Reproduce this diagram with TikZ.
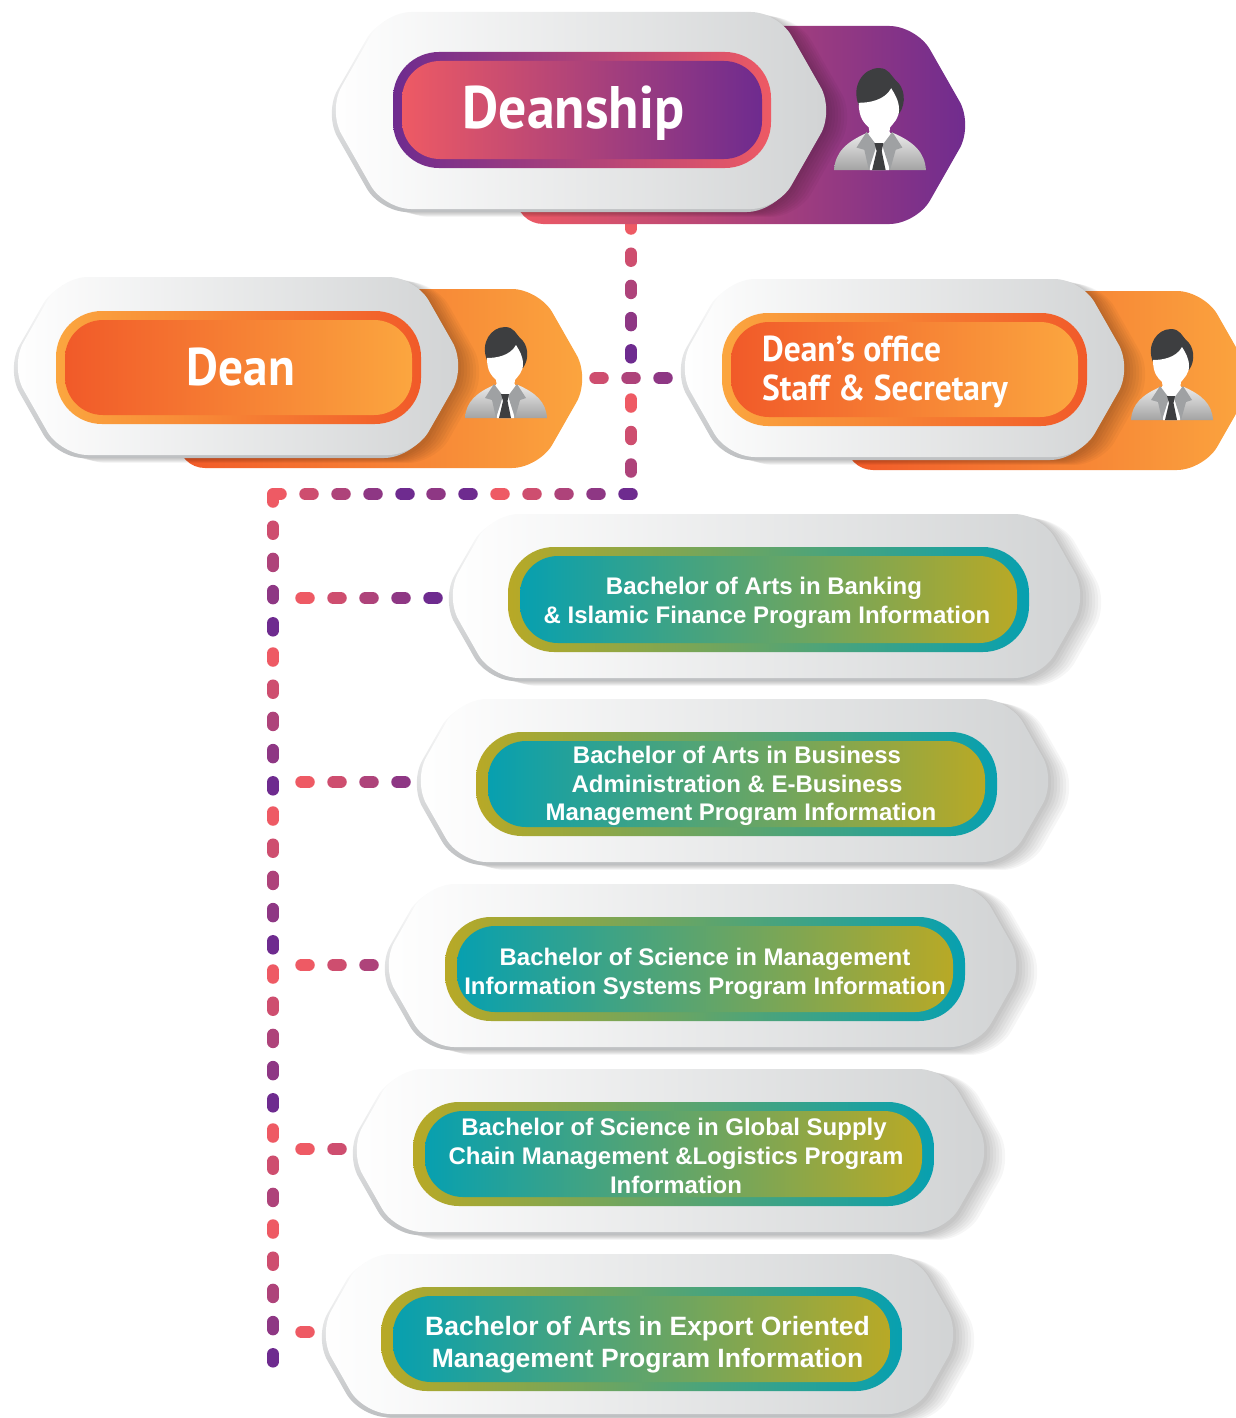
\documentclass[tikz,border=0pt]{standalone}
\usepackage{fontspec}
\newfontfamily\titlefont[FakeStretch=.93]{PT Sans}
\newfontfamily\progfont{Liberation Sans}

\definecolor{dotA}{HTML}{EE5A64}
\definecolor{dotB}{HTML}{CE4E6F}
\definecolor{dotC}{HTML}{AE437A}
\definecolor{dotD}{HTML}{8E3784}
\definecolor{dotE}{HTML}{6E2B8F}
\definecolor{orangeA}{HTML}{F15A29}
\definecolor{orangeB}{HTML}{FBA63F}
\definecolor{tealA}{HTML}{07A0B0}
\definecolor{oliveA}{HTML}{B8A926}
\definecolor{plateB}{HTML}{D1D3D4}
\definecolor{rimgrey}{HTML}{BEC0C2}
\definecolor{hairgrey}{HTML}{3D3E40}
\definecolor{lapelgrey}{HTML}{9FA1A3}

\tikzset{
  dotline/.style={line width=12pt, line cap=round},
  titletext/.style={text=white, inner sep=0pt, font=\titlefont\bfseries\fontsize{#1}{39}\selectfont},
  progtext/.style={text=white, inner sep=0pt, align=center, font=\progfont\bfseries\fontsize{24}{28.6}\selectfont},
  person/.pic={
    \shade[top color=black!8, bottom color=black!36] (-41,0) .. controls (-40,-16) and (-30,-25) .. (-12,-33)
      -- (12,-33) .. controls (30,-25) and (40,-16) .. (41,0) -- cycle;
    \fill[white] (-10,-34) -- (9,-34) -- (8,0) -- (-9,0) -- cycle;
    \fill[lapelgrey] (-12,-34) -- (-21,-20) -- (-14,-18) -- (-10,0) -- (-3,-22) -- cycle;
    \fill[lapelgrey] (11,-34) -- (20,-20) -- (14,-18) -- (9,0) -- (2,-22) -- cycle;
    \fill[hairgrey] (-5,-24) -- (3,-24) -- (1.5,-17) -- (5,0) -- (-7,0) -- (-3,-17) -- cycle;
    \fill[hairgrey] (-19,-58) .. controls (-26,-75) and (-15,-91) .. (-1,-91) .. controls (8,-91) and (10,-84) .. (14,-80)
      .. controls (22,-74) and (24,-60) .. (17,-50) -- cycle;
    \fill[white] (-19,-60) .. controls (-10,-60) and (4,-62) .. (10,-73) .. controls (13,-68) and (17,-62) .. (17,-54)
      .. controls (17,-46) and (12,-42) .. (9,-38) -- (8,-31) -- (-1,-24) -- (-9,-31) -- (-10,-38)
      .. controls (-14,-42) and (-19,-46) .. (-19,-60) -- cycle;
  }
}

%% hexagon outline, the four values being its left, right, top and bottom
\newcommand{\hexpath}[4]{({(#1+#2)/2},#3) -- ({#2+8-.57*(#4-#3)/2},#3) -- ({#2+8},{(#3+#4)/2})
  -- ({#2+8-.57*(#4-#3)/2},#4) -- ({#1-8+.57*(#4-#3)/2},#4) -- ({#1-8},{(#3+#4)/2})
  -- ({#1-8+.57*(#4-#3)/2},#3) -- cycle}

%% grey plate with its soft shadow and rim
\newcommand{\plate}[4]{
  \foreach \k in {1,...,7}
    \fill[black, opacity=.035, rounded corners=27pt, xshift=3*\k, yshift=-.7*\k] \hexpath{#1}{#2}{#3}{#4};
  \shade[rounded corners=27pt, top color=white, bottom color=rimgrey, xshift=-4, yshift=-3] \hexpath{#1+4}{#2}{#3}{#4-3};
  \shade[rounded corners=27pt, left color=white, right color=plateB] \hexpath{#1+4}{#2}{#3}{#4-3};
}

%% pill: left, right, top, bottom, inset, then the colours of the ring
\newcommand{\pillbox}[7]{
  \shade[rounded corners=46pt, left color=#6, right color=#7] (#1,#3) rectangle (#2,#4);
  \shade[rounded corners=38pt, left color=#7, right color=#6] ({#1+#5},{#3+9}) rectangle ({#2-#5},{#4-9});
}

%% coloured back panel: left, tip, top, bottom, colours
\newcommand{\backpanel}[6]{
  \shade[rounded corners=27pt, left color=#5, right color=#6] ({(#1+#2)/2},#3) -- ({#2-.57*(#4-#3)/2},#3) -- (#2,{(#3+#4)/2})
    -- ({#2-.57*(#4-#3)/2},#4) -- (#1,#4) -- (#1,#3) -- cycle;
}

%% one row of pills: from, to, first pill, spacing, colours
\newcommand{\dotlink}[5]{
  \foreach \dotcol [count=\n from 0] in {#5}{
    \pgfmathsetmacro{\dotphase}{5*#4-(#3+#4*\n-3.75)}
    \pgfmathsetmacro{\dotgap}{5*#4-7.5}
    \draw[dotline, \dotcol, dash pattern=on 7.5pt off \dotgap pt, dash phase=\dotphase pt] #1 -- #2;
  }
}

\begin{document}
\begin{tikzpicture}[x=1pt, y=-1pt]
\clip (0,0) rectangle (1236,1418);

%% connector points
\coordinate (deanfoot) at (631,221);
\coordinate (hubtop) at (631,378);
\coordinate (hubfoot) at (631,394);
\coordinate (hubend) at (631,480);
\coordinate (deanport) at (587,378);
\coordinate (officeport) at (675,378);
\coordinate (rowstart) at (640,494);
\coordinate (rowmid) at (421,494);
\coordinate (corner) at (273,494);
\coordinate (trunkI) at (273,642);
\coordinate (trunkII) at (273,801);
\coordinate (trunkIII) at (273,959);
\coordinate (trunkIV) at (273,1118);
\coordinate (trunkV) at (273,1213);
\coordinate (trunkend) at (273,1366);
\coordinate (branchI) at (283,598);
\coordinate (branchII) at (283,782);
\coordinate (branchIII) at (283,965);
\coordinate (branchIV) at (283,1149);
\coordinate (branchV) at (283,1332);
\coordinate (tipI) at (449,598);
\coordinate (tipII) at (417,782);
\coordinate (tipIII) at (385,965);
\coordinate (tipIV) at (353,1149);
\coordinate (tipV) at (322,1332);

%% pills
\dotlink{(deanfoot)}{(hubtop)}{4}{32.2}{dotA,dotB,dotC,dotD,dotE}
\dotlink{(hubfoot)}{(hubend)}{9}{32.5}{dotA,dotB,dotC}
\dotlink{(deanport)}{(officeport)}{12}{32}{dotB,dotC,dotD}
\dotlink{(rowstart)}{(rowmid)}{12}{32}{dotE,dotD,dotC,dotB,dotA}
\dotlink{(rowmid)}{(corner)}{16}{32}{dotE,dotD,dotC,dotB,dotA}
\dotlink{(corner)}{(trunkI)}{4}{32.2}{dotA,dotB,dotC,dotD,dotE}
\dotlink{(trunkI)}{(trunkII)}{15}{32.2}{dotA,dotB,dotC,dotD,dotE}
\dotlink{(trunkII)}{(trunkIII)}{15}{32.2}{dotA,dotB,dotC,dotD,dotE}
\dotlink{(trunkIII)}{(trunkIV)}{15}{32.2}{dotA,dotB,dotC,dotD,dotE}
\dotlink{(trunkIV)}{(trunkV)}{15}{32.2}{dotA,dotB,dotC}
\dotlink{(trunkV)}{(trunkend)}{16}{32.2}{dotA,dotB,dotC,dotD,dotE}
\dotlink{(branchI)}{(tipI)}{22}{32}{dotA,dotB,dotC,dotD,dotE}
\dotlink{(branchII)}{(tipII)}{22}{32}{dotA,dotB,dotC,dotD}
\dotlink{(branchIII)}{(tipIII)}{22}{32}{dotA,dotB,dotC}
\dotlink{(branchIV)}{(tipIV)}{22}{32}{dotA,dotB}
\dotlink{(branchV)}{(tipV)}{22}{32}{dotA}

%% Deanship
\backpanel{516}{973}{26}{224}{dotA}{dotE}
\plate{332}{826}{12}{212}
\pillbox{393}{771}{52}{168}{9}{dotE}{dotA}
\node[titletext=60] (deanship) at (573.5,113) {Deanship};
\pic[scale=1.12] (deanshipman) at (880,170) {person};

%% Dean
\backpanel{178}{590}{289}{468}{orangeA}{orangeB}
\plate{14}{458}{277}{458}
\pillbox{56}{421}{311}{424}{9}{orangeB}{orangeA}
\node[titletext=53] (dean) at (241,367.5) {Dean};
\pic (deanman) at (506,418) {person};

%% Dean's office
\backpanel{846}{1255}{291}{470}{orangeA}{orangeB}
\plate{681}{1124}{279}{460}
\pillbox{722}{1087}{313}{426}{9}{orangeB}{orangeA}
\node[titletext=36, align=left, anchor=west] (office) at (762,372) {Dean’s office\\Staff \& Secretary};
\pic (officeman) at (1172,420) {person};

%% programs
\plate{449}{1080}{514}{681}
\pillbox{508}{1029}{547}{652}{12}{oliveA}{tealA}
\node[progtext] (progI) at (767,603) {\hspace*{-6pt}Bachelor of Arts in Banking\\\& Islamic Finance Program Information};

\plate{417}{1048}{699}{865}
\pillbox{476}{997}{732}{836}{12}{oliveA}{tealA}
\node[progtext] (progII) at (741,786) {\hspace*{-8pt}Bachelor of Arts in Business\\\hspace*{-8pt}Administration \& E-Business\\Management Program Information};

\plate{385}{1016}{884}{1050}
\pillbox{445}{965}{917}{1021}{12}{oliveA}{tealA}
\node[progtext] (progIII) at (705,974) {Bachelor of Science in Management\\Information Systems Program Information};

\plate{353}{984}{1069}{1235}
\pillbox{413}{934}{1102}{1206}{12}{oliveA}{tealA}
\node[progtext] (progIV) at (676,1156) {\hspace*{-4pt}Bachelor of Science in Global Supply\\Chain Management \&Logistics Program\\Information};

\plate{322}{953}{1254}{1417}
\pillbox{381}{902}{1287}{1391}{12}{oliveA}{tealA}
\node[progtext, font=\progfont\bfseries\fontsize{26.5}{32}\selectfont] (progV) at (647.5,1345)
  {Bachelor of Arts in Export Oriented\\Management Program Information};

\end{tikzpicture}
\end{document}
